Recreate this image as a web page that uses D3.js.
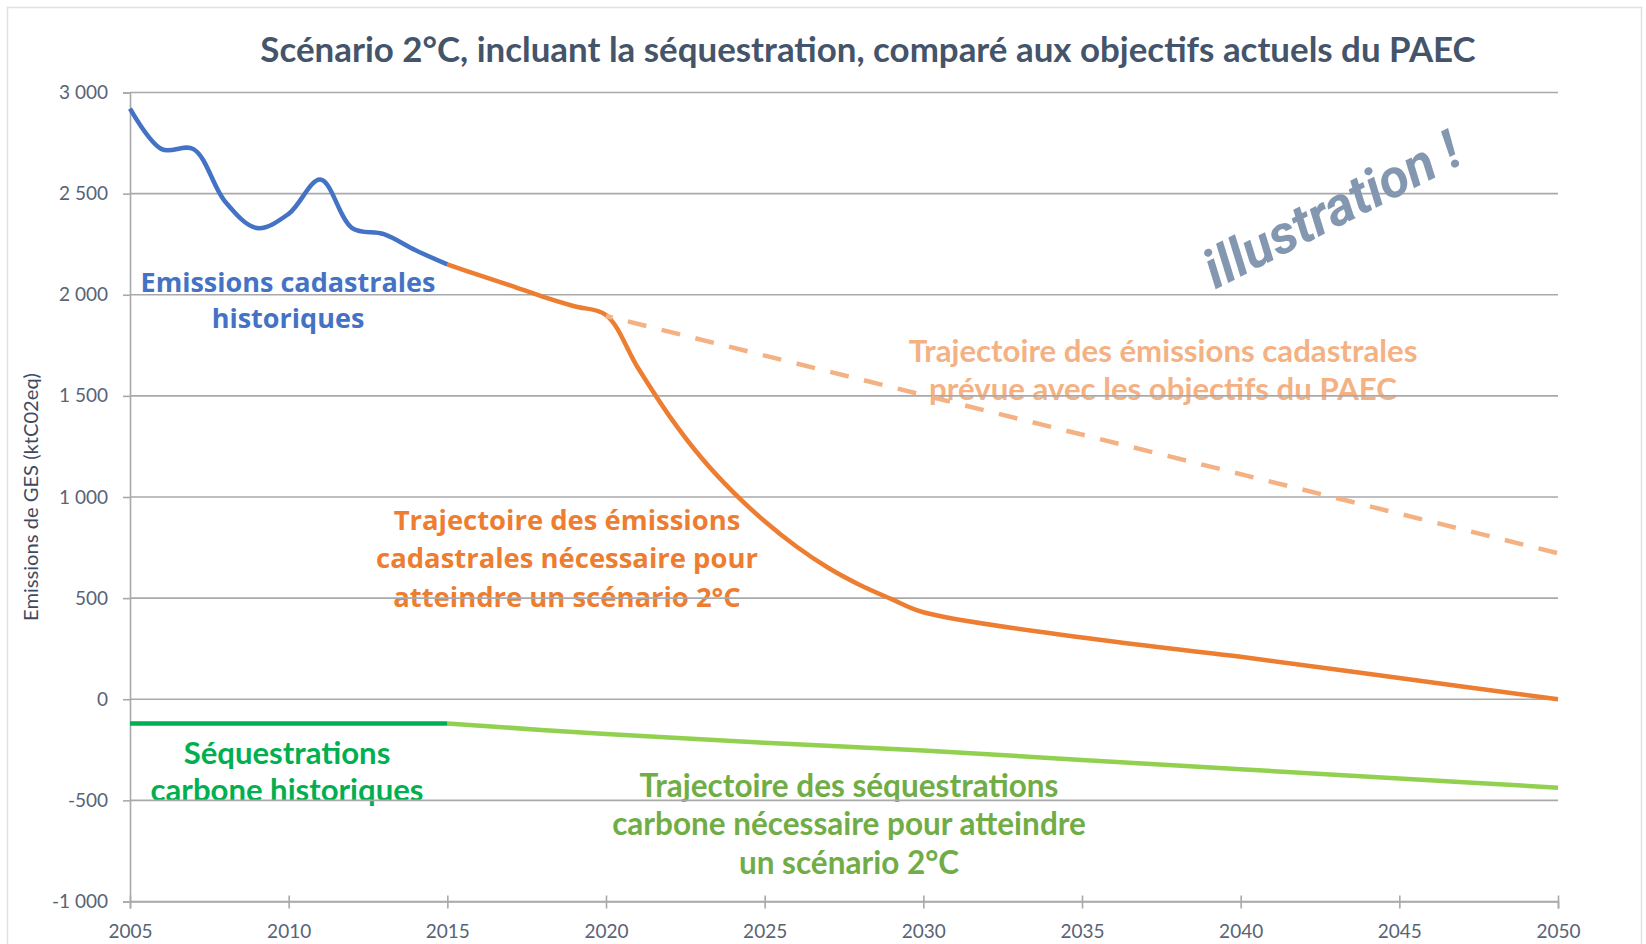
<!DOCTYPE html>
<html>
<head>
<meta charset="utf-8">
<script src="https://cdn.jsdelivr.net/npm/d3@7"></script>
<style>
  html, body { margin: 0; padding: 0; background: #ffffff; }
  svg { display: block; }
</style>
</head>
<body>
<svg id="chart"></svg>
<script>
(function(window, document) {
  'use strict';

  // Historical cadastral emissions (ktCO2eq)
  const histYears = [2005, 2006, 2007, 2008, 2009, 2010, 2011, 2012, 2013, 2014, 2015];
  const histEmissions = [2920, 2720, 2720, 2460, 2330, 2400, 2570, 2330, 2300, 2220, 2150];

  // Trajectory needed for a 2°C scenario
  const trajYears = [2015, 2016, 2017, 2018, 2019, 2020, 2021, 2022, 2023, 2024, 2025,
    2026, 2027, 2028, 2029, 2030, 2035, 2040, 2045, 2050];
  const trajEmissions = [2150, 2097, 2045, 1991, 1943, 1900, 1640, 1400, 1195, 1025, 880,
    755, 650, 565, 495, 430, 305, 210, 105, 0];

  // Trajectory expected with the PAEC objectives
  const paecYears = [2020, 2050];
  const paecEmissions = [1895, 722];

  // Carbon sequestration, historical and needed
  const seqHistYears = [2005, 2010, 2015];
  const seqHistValues = [-120, -120, -120];
  const seqTrajYears = [2015, 2020, 2025, 2030, 2035, 2040, 2045, 2050];
  const seqTrajValues = [-120, -172, -215, -253, -300, -346, -392, -437];

  // Axes
  const xTicks = [2005, 2010, 2015, 2020, 2025, 2030, 2035, 2040, 2045, 2050];
  const xTickLabels = ['2005', '2010', '2015', '2020', '2025', '2030', '2035', '2040', '2045', '2050'];
  const yTicks = [-1000, -500, 0, 500, 1000, 1500, 2000, 2500, 3000];
  const yTickLabels = ['-1 000', '-500', '0', '500', '1 000', '1 500', '2 000', '2 500', '3 000'];

  const width = 1646;
  const height = 944;
  const margin = {top: 92.5, right: 88, bottom: 42.5, left: 130};

  let svg = d3.select('#chart')
    .attr('width', width)
    .attr('height', height)
    .style('font-family', 'Lato, sans-serif');

  // Chart border
  svg.append('rect')
    .attr('x', 7.5)
    .attr('y', 7.5)
    .attr('width', 1634)
    .attr('height', 960)
    .attr('fill', '#ffffff')
    .attr('stroke', '#dde1e6')
    .attr('stroke-width', 1.5);

  let x = d3.scaleLinear()
    .domain([2005, 2050])
    .range([margin.left, width - margin.right]);

  let y = d3.scaleLinear()
    .domain([-1000, 3000])
    .range([height - margin.bottom, margin.top]);

  // Text helper: multi-line bold label scaled to a measured width
  function addLabel(lines, opts) {
    let t = svg.append('text')
      .attr('text-anchor', 'middle')
      .style('font-family', opts.family)
      .style('font-weight', 700)
      .style('font-size', '20px')
      .style('fill', opts.color);
    lines.forEach((line, i) => {
      t.append('tspan')
        .attr('x', opts.x)
        .attr('y', opts.y + i * opts.lh)
        .text(line);
    });
    let ref = t.selectAll('tspan').nodes()[opts.fitLine];
    let w = ref.getComputedTextLength();
    t.style('font-size', (20 * opts.width / w) + 'px');
    return t;
  }

  // Title
  let title = svg.append('text')
    .attr('x', 868)
    .attr('y', 62)
    .attr('text-anchor', 'middle')
    .style('font-weight', 700)
    .style('font-size', '30px')
    .style('fill', '#44546a')
    .text('Scénario 2°C, incluant la séquestration, comparé aux objectifs actuels du PAEC');
  title.style('font-size', (30 * 1216 / title.node().getComputedTextLength()) + 'px');

  // Annotations (drawn under the grid, like in the source)
  addLabel(['Emissions cadastrales', 'historiques'], {
    x: 288, y: 292, lh: 36, family: '"Open Sans", sans-serif',
    color: '#4472c4', fitLine: 0, width: 295
  });
  addLabel(['Trajectoire des émissions cadastrales', 'prévue avec les objectifs du PAEC'], {
    x: 1163, y: 362, lh: 38, family: 'Lato, sans-serif',
    color: '#f4b183', fitLine: 0, width: 509
  });
  addLabel(['Trajectoire des émissions', 'cadastrales nécessaire pour', 'atteindre un scénario 2°C'], {
    x: 567, y: 530, lh: 38.3, family: '"Open Sans", sans-serif',
    color: '#ed7d31', fitLine: 1, width: 382
  });
  addLabel(['Séquestrations', 'carbone historiques'], {
    x: 287, y: 764, lh: 37, family: 'Lato, sans-serif',
    color: '#00b050', fitLine: 1, width: 273
  });
  addLabel(['Trajectoire des séquestrations', 'carbone nécessaire pour atteindre', 'un scénario 2°C'], {
    x: 849, y: 797, lh: 38.3, family: 'Lato, sans-serif',
    color: '#70ad47', fitLine: 1, width: 474
  });

  // Horizontal gridlines
  svg.append('g')
    .attr('class', 'grid')
    .selectAll('line')
    .data(yTicks)
    .enter()
    .append('line')
    .attr('x1', margin.left)
    .attr('x2', width - margin.right)
    .attr('y1', d => y(d))
    .attr('y2', d => y(d))
    .attr('stroke', '#a9a9ab')
    .attr('stroke-width', 1.6);

  // Y axis
  let yAxis = svg.append('g')
    .attr('transform', 'translate(' + margin.left + ',0)')
    .call(d3.axisLeft(y)
      .tickValues(yTicks)
      .tickSize(7)
      .tickPadding(15)
      .tickFormat((d, i) => yTickLabels[i]));
  yAxis.select('.domain').attr('stroke', '#a9a9ab').attr('stroke-width', 1.6);
  yAxis.selectAll('.tick line').attr('stroke', '#a9a9ab').attr('stroke-width', 1.6);
  yAxis.selectAll('.tick text')
    .style('font-family', 'Lato, sans-serif')
    .style('font-size', '19px')
    .style('fill', '#586376');

  // X axis
  let xAxis = svg.append('g')
    .attr('transform', 'translate(0,' + y(-1000) + ')')
    .call(d3.axisBottom(x)
      .tickValues(xTicks)
      .tickSize(7)
      .tickFormat((d, i) => xTickLabels[i]));
  xAxis.select('.domain').attr('stroke', '#a9a9ab').attr('stroke-width', 1.6);
  xAxis.selectAll('.tick line')
    .attr('y1', -6)
    .attr('stroke', '#a9a9ab')
    .attr('stroke-width', 1.6);
  xAxis.selectAll('.tick text')
    .attr('y', 23)
    .style('font-family', 'Lato, sans-serif')
    .style('font-size', '19px')
    .style('fill', '#586376');

  // Y axis title
  let yTitle = svg.append('text')
    .attr('transform', 'translate(38,497) rotate(-90)')
    .attr('text-anchor', 'middle')
    .style('font-size', '18px')
    .style('fill', '#3d4b60')
    .text('Emissions de GES (ktC02eq)');
  yTitle.style('font-size', (18 * 248 / yTitle.node().getComputedTextLength()) + 'px');

  // Lines
  let line = d3.line()
    .x(d => x(d[0]))
    .y(d => y(d[1]))
    .curve(d3.curveCatmullRom);

  let series = [
    {years: trajYears, values: trajEmissions, color: '#ed7d31', dash: null},
    {years: paecYears, values: paecEmissions, color: '#f4b183', dash: '19,15.76'},
    {years: histYears, values: histEmissions, color: '#4472c4', dash: null},
    {years: seqTrajYears, values: seqTrajValues, color: '#92d050', dash: null},
    {years: seqHistYears, values: seqHistValues, color: '#00b050', dash: null}
  ];

  svg.append('g')
    .attr('class', 'series')
    .selectAll('path')
    .data(series)
    .enter()
    .append('path')
    .attr('d', d => line(d3.zip(d.years, d.values)))
    .attr('fill', 'none')
    .attr('stroke', d => d.color)
    .attr('stroke-width', 4.5)
    .attr('stroke-linejoin', 'round')
    .attr('stroke-dasharray', d => d.dash)
    .attr('stroke-dashoffset', d => d.dash ? 12.2 : null);

  // Watermark
  let stamp = svg.append('text')
    .attr('transform', 'translate(1340,226) rotate(-27)')
    .attr('text-anchor', 'middle')
    .style('font-family', 'Roboto, sans-serif')
    .style('font-weight', 700)
    .style('font-style', 'italic')
    .style('font-size', '40px')
    .style('fill', '#8497b0')
    .text('illustration !');
  stamp.style('font-size', (40 * 280 / stamp.node().getComputedTextLength()) + 'px');
})(window, document);
</script>
</body>
</html>
